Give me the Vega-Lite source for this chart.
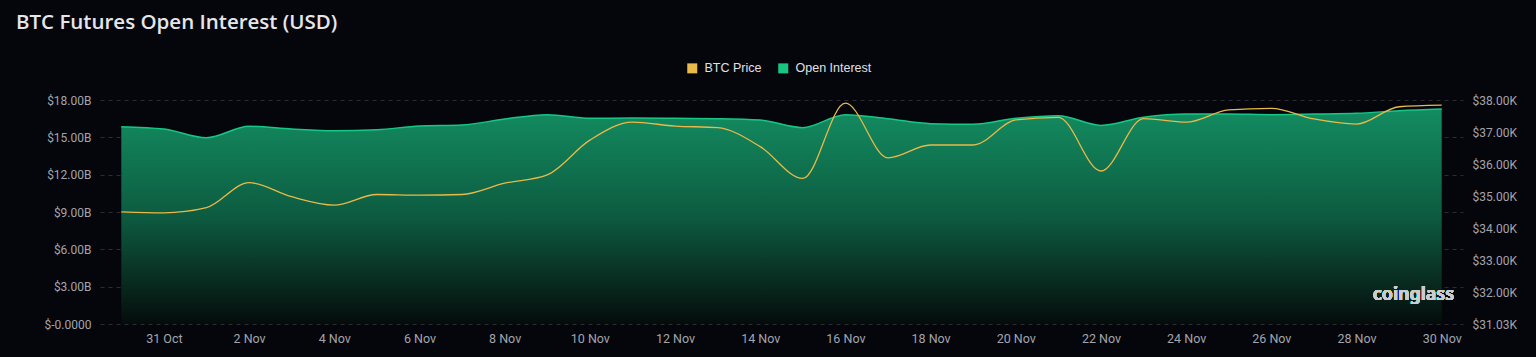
{
  "$schema": "https://vega.github.io/schema/vega-lite/v6.json",
  "width": 1363,
  "height": 224,
  "autosize": {"type": "none"},
  "padding": {"left": 100, "top": 100, "right": 73, "bottom": 33},
  "background": "#05060b",
  "title": {
    "text": "BTC Futures Open Interest (USD)",
    "anchor": "start",
    "frame": "group",
    "orient": "top",
    "offset": 29,
    "dx": -84,
    "font": "Open Sans",
    "fontSize": 20.5,
    "fontWeight": 600,
    "color": "#e6e6ea"
  },
  "data": {
    "values": [
      {"date": "2023-10-30", "oi": 15860000000, "price": 34520},
      {"date": "2023-10-31", "oi": 15670000000, "price": 34490},
      {"date": "2023-11-01", "oi": 14970000000, "price": 34650},
      {"date": "2023-11-02", "oi": 15890000000, "price": 35430},
      {"date": "2023-11-03", "oi": 15670000000, "price": 34990},
      {"date": "2023-11-04", "oi": 15530000000, "price": 34730},
      {"date": "2023-11-05", "oi": 15610000000, "price": 35060},
      {"date": "2023-11-06", "oi": 15910000000, "price": 35040},
      {"date": "2023-11-07", "oi": 15990000000, "price": 35060},
      {"date": "2023-11-08", "oi": 16470000000, "price": 35410},
      {"date": "2023-11-09", "oi": 16820000000, "price": 35670},
      {"date": "2023-11-10", "oi": 16530000000, "price": 36750},
      {"date": "2023-11-11", "oi": 16550000000, "price": 37310},
      {"date": "2023-11-12", "oi": 16530000000, "price": 37190},
      {"date": "2023-11-13", "oi": 16500000000, "price": 37140},
      {"date": "2023-11-14", "oi": 16390000000, "price": 36550},
      {"date": "2023-11-15", "oi": 15780000000, "price": 35560},
      {"date": "2023-11-16", "oi": 16820000000, "price": 37900},
      {"date": "2023-11-17", "oi": 16500000000, "price": 36200},
      {"date": "2023-11-18", "oi": 16100000000, "price": 36600},
      {"date": "2023-11-19", "oi": 16050000000, "price": 36600},
      {"date": "2023-11-20", "oi": 16530000000, "price": 37380},
      {"date": "2023-11-21", "oi": 16740000000, "price": 37460},
      {"date": "2023-11-22", "oi": 15960000000, "price": 35790},
      {"date": "2023-11-23", "oi": 16610000000, "price": 37420},
      {"date": "2023-11-24", "oi": 16870000000, "price": 37310},
      {"date": "2023-11-25", "oi": 16870000000, "price": 37690},
      {"date": "2023-11-26", "oi": 16820000000, "price": 37740},
      {"date": "2023-11-27", "oi": 16870000000, "price": 37410},
      {"date": "2023-11-28", "oi": 16930000000, "price": 37250},
      {"date": "2023-11-29", "oi": 17140000000, "price": 37790},
      {"date": "2023-11-30", "oi": 17280000000, "price": 37840}
    ]
  },
  "encoding": {
    "x": {
      "field": "date",
      "type": "temporal",
      "scale": {
        "type": "utc",
        "domain": [
          {"year": 2023, "month": 10, "date": 29, "hours": 12, "utc": true},
          {"year": 2023, "month": 11, "date": 30, "hours": 12, "utc": true}
        ]
      },
      "axis": {
        "title": null,
        "format": "%-d %b",
        "values": [
          {"year": 2023, "month": 10, "date": 31, "utc": true},
          {"year": 2023, "month": 11, "date": 2, "utc": true},
          {"year": 2023, "month": 11, "date": 4, "utc": true},
          {"year": 2023, "month": 11, "date": 6, "utc": true},
          {"year": 2023, "month": 11, "date": 8, "utc": true},
          {"year": 2023, "month": 11, "date": 10, "utc": true},
          {"year": 2023, "month": 11, "date": 12, "utc": true},
          {"year": 2023, "month": 11, "date": 14, "utc": true},
          {"year": 2023, "month": 11, "date": 16, "utc": true},
          {"year": 2023, "month": 11, "date": 18, "utc": true},
          {"year": 2023, "month": 11, "date": 20, "utc": true},
          {"year": 2023, "month": 11, "date": 22, "utc": true},
          {"year": 2023, "month": 11, "date": 24, "utc": true},
          {"year": 2023, "month": 11, "date": 26, "utc": true},
          {"year": 2023, "month": 11, "date": 28, "utc": true},
          {"year": 2023, "month": 11, "date": 30, "utc": true}
        ],
        "grid": false,
        "domain": false,
        "ticks": false,
        "labelPadding": 8,
        "labelFontSize": 12.5
      }
    }
  },
  "layer": [
    {
      "encoding": {
        "y": {
          "field": "oi",
          "type": "quantitative",
          "scale": {"domain": [0, 18000000000], "nice": false},
          "axis": {
            "title": null,
            "orient": "left",
            "values": [0, 3000000000, 6000000000, 9000000000, 12000000000, 15000000000, 18000000000],
            "labelExpr": "datum.value == 0 ? '$-0.0000' : '$' + format(datum.value / 1e9, '.2f') + 'B'",
            "grid": true,
            "gridDash": [4, 4],
            "gridColor": "#2a2c34",
            "domain": false,
            "ticks": false,
            "labelPadding": 9
          }
        }
      },
      "layer": [
        {
          "mark": {
            "type": "area",
            "interpolate": "monotone",
            "fill": {
              "gradient": "linear",
              "x1": 0, "y1": 0, "x2": 0, "y2": 1,
              "stops": [
                {"offset": 0, "color": "#138c61"},
                {"offset": 0.5, "color": "#0d5b40"},
                {"offset": 1, "color": "#050c0b"}
              ]
            }
          }
        },
        {
          "mark": {"type": "line", "interpolate": "monotone", "strokeWidth": 1.5},
          "encoding": {
            "color": {
              "datum": "Open Interest",
              "scale": {"domain": ["BTC Price", "Open Interest"], "range": ["#e9b949", "#16c784"]},
              "legend": {
                "orient": "none",
                "legendX": 586,
                "legendY": -38,
                "direction": "horizontal",
                "title": null,
                "symbolType": "square",
                "symbolSize": 100,
                "symbolStrokeWidth": 0,
                "labelColor": "#e0e0e4",
                "labelFont": "Liberation Sans",
                "labelFontSize": 12.5,
                "labelOffset": 6,
                "columnPadding": 15,
                "padding": 0,
                "encode": {"symbols": {"update": {"fill": {"scale": "color", "field": "value"}}}}
              }
            }
          }
        },
        {
          "mark": {
            "type": "text",
            "text": "coinglass",
            "align": "right",
            "baseline": "middle",
            "font": "Noto Sans",
            "fontSize": 18,
            "fontWeight": 600,
            "color": "#c9cdd0"
          },
          "encoding": {
            "x": {"datum": {"year": 2023, "month": 11, "date": 30, "hours": 7, "utc": true}, "type": "temporal"},
            "y": {"datum": 2330000000, "type": "quantitative"}
          }
        }
      ]
    },
    {
      "mark": {"type": "line", "interpolate": "monotone", "strokeWidth": 1.3},
      "encoding": {
        "y": {
          "field": "price",
          "type": "quantitative",
          "scale": {"domain": [31030, 38000], "nice": false, "zero": false},
          "axis": {
            "title": null,
            "orient": "right",
            "values": [31030, 32000, 33000, 34000, 35000, 36000, 37000, 38000],
            "labelExpr": "'$' + format(datum.value / 1000, '.2f') + 'K'",
            "grid": false,
            "domain": false,
            "ticks": false,
            "labelPadding": 9
          }
        },
        "color": {
          "datum": "BTC Price",
          "scale": {"domain": ["BTC Price", "Open Interest"], "range": ["#e9b949", "#16c784"]},
          "legend": {
            "orient": "none",
            "legendX": 586,
            "legendY": -38,
            "direction": "horizontal",
            "title": null,
            "symbolType": "square",
            "symbolSize": 100,
            "symbolStrokeWidth": 0,
            "labelColor": "#e0e0e4",
            "labelFont": "Liberation Sans",
            "labelFontSize": 12.5,
            "labelOffset": 6,
            "columnPadding": 15,
            "padding": 0,
            "encode": {"symbols": {"update": {"fill": {"scale": "color", "field": "value"}}}}
          }
        }
      }
    }
  ],
  "resolve": {"scale": {"y": "independent"}},
  "config": {
    "view": {"stroke": null},
    "axis": {
      "labelColor": "#a3a4ab",
      "labelFont": "Roboto",
      "labelFontSize": 12
    }
  }
}
